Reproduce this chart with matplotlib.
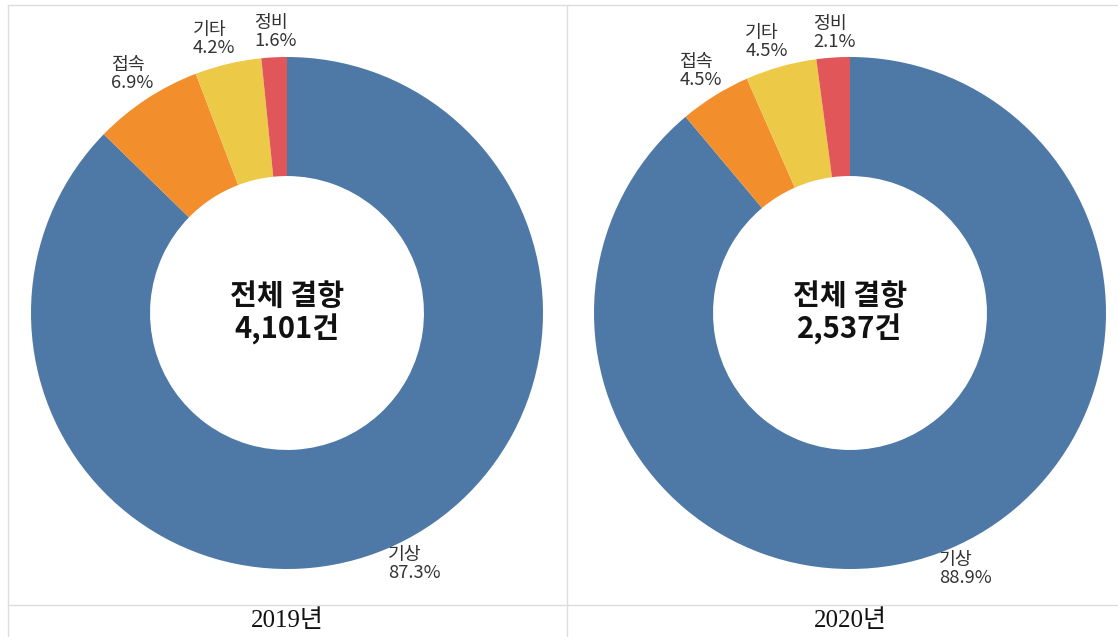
import matplotlib
matplotlib.use("Agg")
import matplotlib.pyplot as plt
import numpy as np
from matplotlib.lines import Line2D

plt.rcParams['font.family'] = ['Noto Sans CJK KR', 'DejaVu Sans']

categories = ['기상', '접속', '기타', '정비']
values_2019 = [87.3, 6.9, 4.2, 1.6]
values_2020 = [88.9, 4.5, 4.5, 2.1]
totals = ['4,101', '2,537']
years = ['2019년', '2020년']
colors = ['#4E79A7', '#F28E2B', '#EDC948', '#E15759']

W, H = 1118, 637
fig = plt.figure(figsize=(W / 100, H / 100), dpi=100)

centers = [(287, 313), (850, 313)]
R = 256

for (cx, cy), vals, tot, yr in zip(centers, [values_2019, values_2020], totals, years):
    ax = fig.add_axes([(cx - R) / W, (H - cy - R) / H, 2 * R / W, 2 * R / H])
    wedges, _ = ax.pie(vals, colors=colors, startangle=90, counterclock=False,
                       radius=1.0, wedgeprops=dict(width=0.465, edgecolor='none'))
    ax.set_xlim(-1, 1)
    ax.set_ylim(-1, 1)
    ax.set_aspect('equal')
    ax.axis('off')
    for w, cat, v in zip(wedges, categories, vals):
        ang = np.deg2rad((w.theta1 + w.theta2) / 2)
        x, y = np.cos(ang), np.sin(ang)
        if x > 0.15:
            ha, dx = 'left', 1
        elif x < -0.15:
            ha, dx = 'right', 5
        else:
            ha, dx = 'center', 1
        if y > 0:
            va, dy = 'bottom', 5
        else:
            va, dy = 'top', 2
        ax.annotate(f'{cat}\n{v}%', xy=(x, y), xytext=(dx, dy), textcoords='offset points',
                    ha=ha, va=va, fontsize=13.2, multialignment='left', color='#333333',
                    linespacing=1.0, annotation_clip=False)
    ax.text(0, 0, f'전체 결항\n{tot}건', ha='center', va='center', fontsize=21,
            fontweight='bold', color='#111111', linespacing=1.15)
    fig.text(cx / W, 1 - 621 / H, yr, ha='center', va='center', fontsize=18,
             family=['Liberation Serif', 'Noto Sans CJK KR'], color='#111111')

lc = '#dddddd'
def hline(y, x0, x1):
    fig.add_artist(Line2D([x0 / W, x1 / W], [1 - y / H, 1 - y / H], color=lc, lw=1))
def vline(x, y0, y1):
    fig.add_artist(Line2D([x / W, x / W], [1 - y0 / H, 1 - y1 / H], color=lc, lw=1))

hline(5, 8, W)
hline(605, 8, W)
vline(8, 5, H)
vline(567, 5, H)

fig.savefig('out.png', dpi=100, facecolor='white')
